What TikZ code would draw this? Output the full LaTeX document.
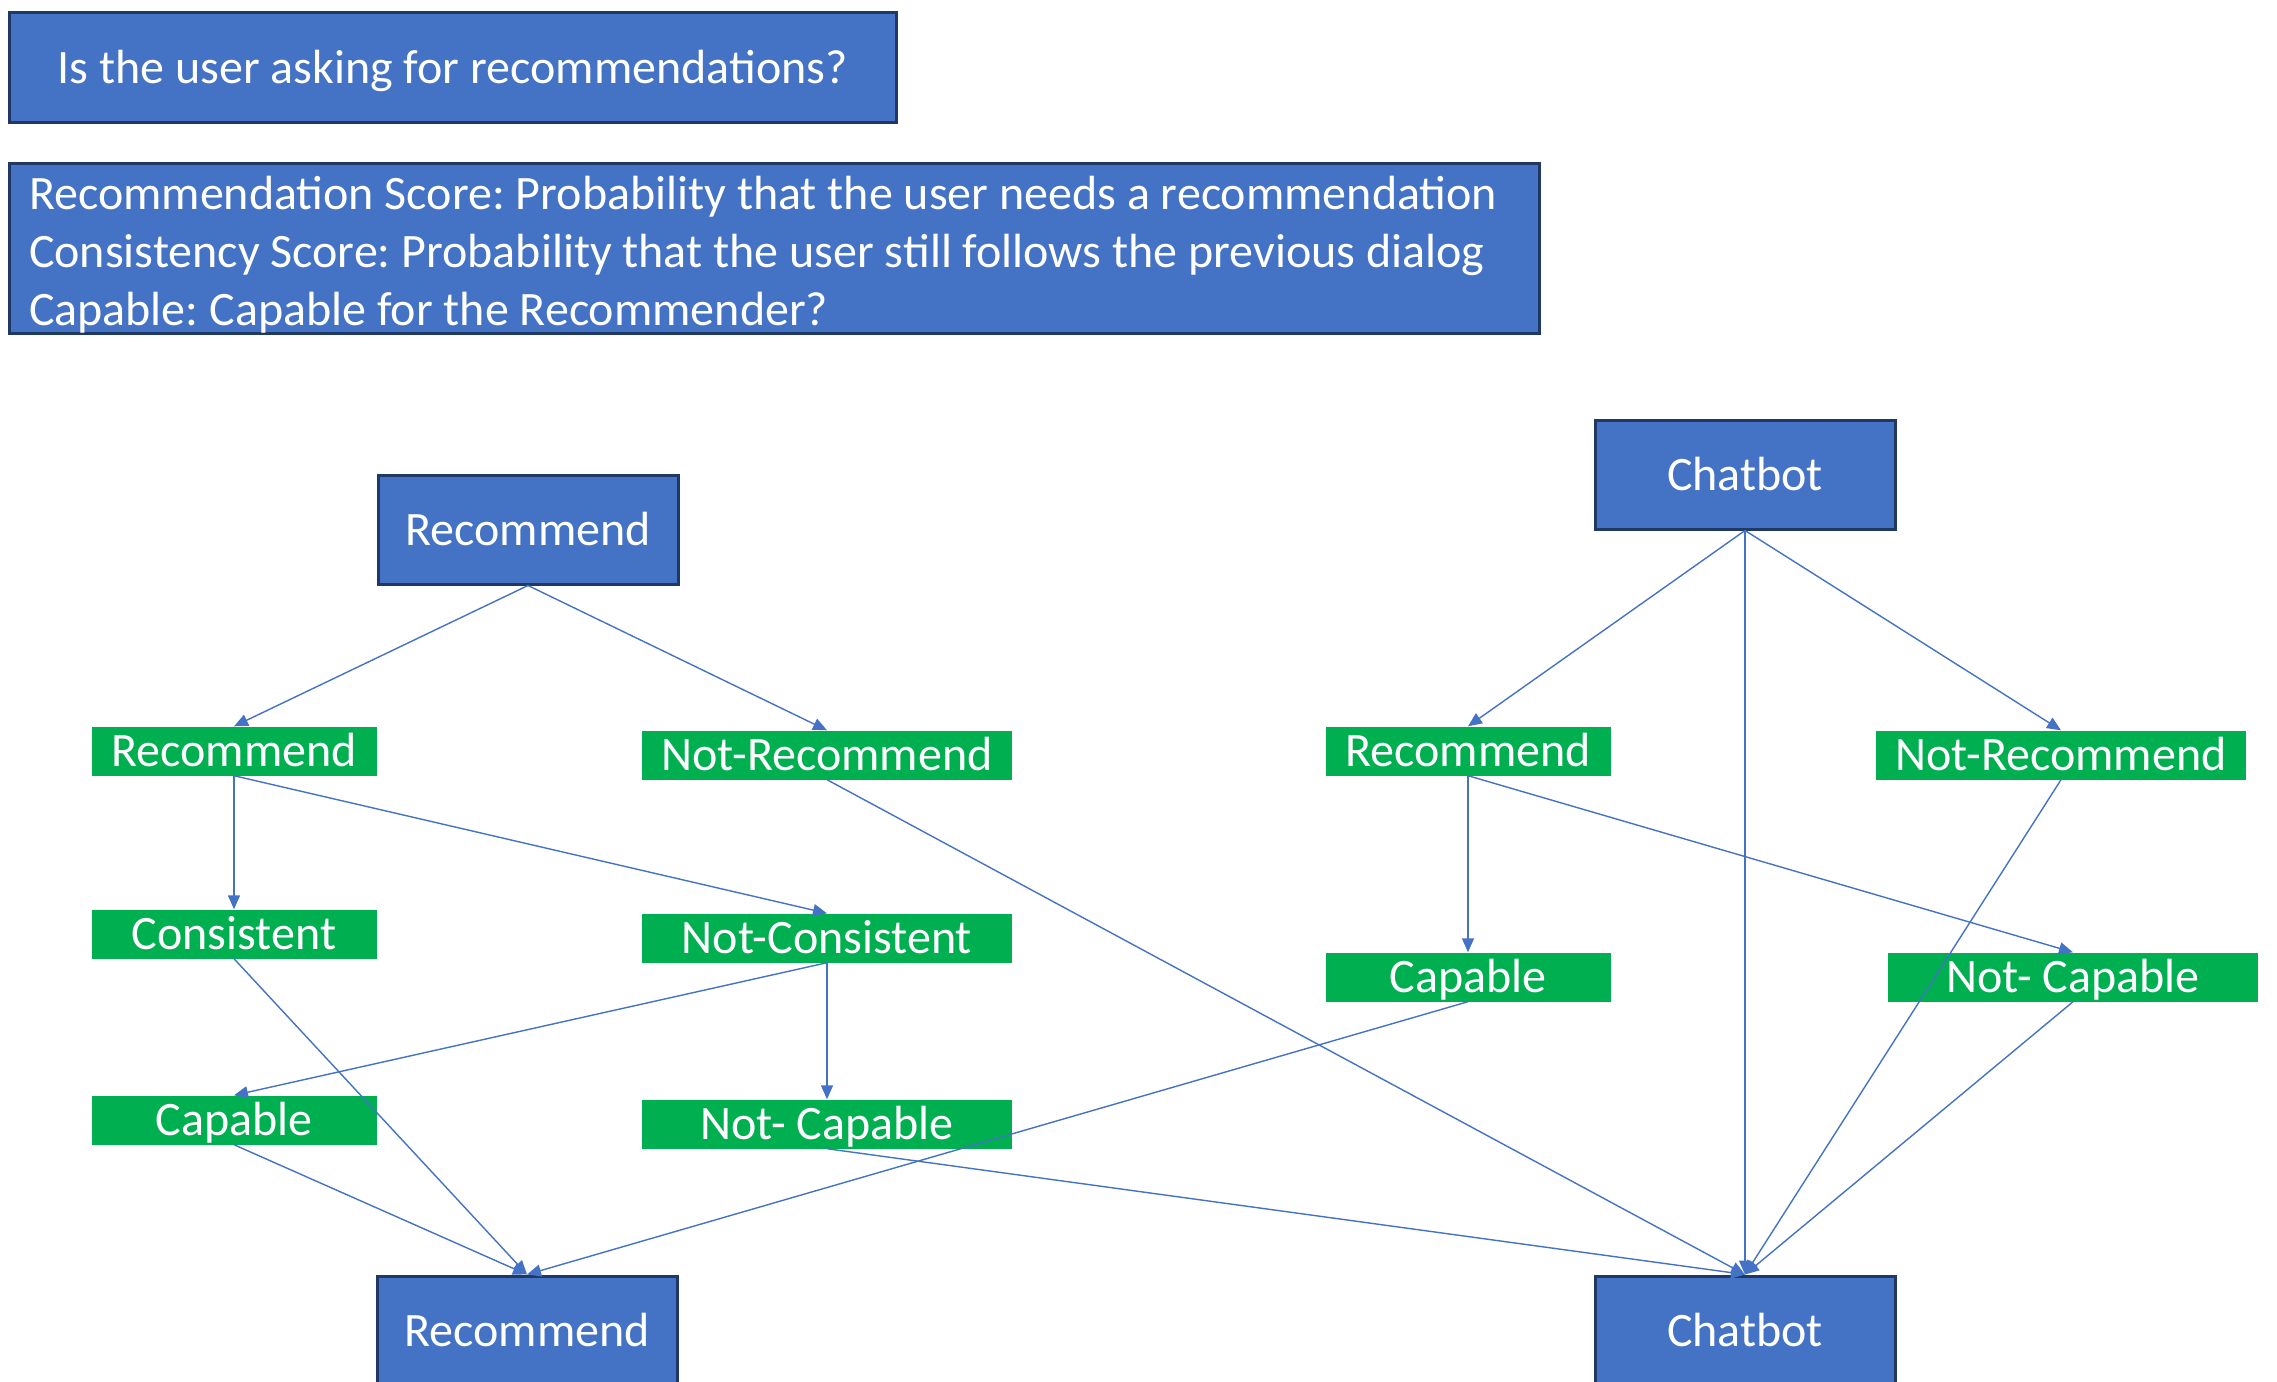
\documentclass[tikz,border=0pt]{standalone}
\usepackage{fontspec}
\setmainfont{Carlito}
\usetikzlibrary{arrows.meta}
\definecolor{boxblue}{HTML}{4472C4}
\definecolor{boxedge}{HTML}{1F3864}
\definecolor{leafgreen}{HTML}{00B050}
\frenchspacing

\begin{document}
\begin{tikzpicture}[x=1pt,y=-1pt]
    % ===== PARAMETERS =====
    \pgfmathsetmacro{\W}{2277}   % picture width
    \pgfmathsetmacro{\H}{1381}   % picture height
    \pgfmathsetmacro{\BW}{300}   % blue box width
    \pgfmathsetmacro{\BH}{109}   % blue box height
    \pgfmathsetmacro{\GS}{285}   % short green box width
    \pgfmathsetmacro{\GL}{370}   % long green box width
    \pgfmathsetmacro{\GH}{49}    % green box height

    % Column centres
    \pgfmathsetmacro{\Ca}{234}
    \pgfmathsetmacro{\Cb}{827}
    \pgfmathsetmacro{\Cc}{1468}
    \pgfmathsetmacro{\Cd}{2061}

    \useasboundingbox (0,0) rectangle (\W,\H);

    % ===== STYLES =====
    \tikzset{
        bigfont/.style={font=\fontsize{48}{58}\selectfont},
        bluebox/.style={
            bigfont, draw=boxedge, fill=boxblue, line width=3pt,
            text=white, inner sep=0pt,
            text height=37pt, text depth=6pt
        },
        greenbox/.style={
            bigfont, fill=leafgreen, text=white, inner sep=0pt,
            minimum height=\GH pt, text height=37pt, text depth=6pt
        },
        link/.style={
            draw=boxblue, line width=1.4pt,
            -{Triangle[length=14pt,width=12pt]}
        }
    }

    % ===== HEADER BOXES =====
    \node[bluebox, minimum width=887pt, minimum height=\BH pt] (question) at (452.5,67.5)
        {Is the user asking for recommendations?};
    \node[bluebox, minimum width=1530pt, minimum height=169pt,
          text height=, text depth=, align=flush left, text width=1490pt] (legend) at (774,248.5)
        {\rule{0pt}{46pt}Recommendation Score: Probability that the user needs a recommendation\\
         Consistency Score: Probability that the user still follows the previous dialog\\
         Capable: Capable for the Recommender?};

    % ===== TOP DECISIONS =====
    \node[bluebox, minimum width=\BW pt, minimum height=\BH pt] (recTop)  at (528,529.5) {Recommend};
    \node[bluebox, minimum width=\BW pt, minimum height=\BH pt] (chatTop) at (1745,474.5) {Chatbot};

    % ===== LEFT TREE =====
    \node[greenbox, minimum width=\GS pt] (recL)     at (\Ca,751)  {Recommend};
    \node[greenbox, minimum width=\GL pt] (notRecL)  at (\Cb,755)  {Not-Recommend};
    \node[greenbox, minimum width=\GS pt] (consL)    at (\Ca,934)  {Consistent};
    \node[greenbox, minimum width=\GL pt] (notConsL) at (\Cb,938)  {Not-Consistent};
    \node[greenbox, minimum width=\GS pt] (capL)     at (\Ca,1120) {Capable};
    \node[greenbox, minimum width=\GL pt] (notCapL)  at (\Cb,1124) {Not- Capable};

    % ===== RIGHT TREE =====
    \node[greenbox, minimum width=\GS pt] (recR)    at (\Cc,751) {Recommend};
    \node[greenbox, minimum width=\GL pt] (notRecR) at (\Cd,755) {Not-Recommend};
    \node[greenbox, minimum width=\GS pt] (capR)    at (\Cc,977) {Capable};
    \node[greenbox, minimum width=\GL pt] (notCapR) at (2073,977) {Not- Capable};

    % ===== OUTCOMES =====
    \node[bluebox, minimum width=\BW pt, minimum height=\BH pt] (recBot)  at (527,1330.5)  {Recommend};
    \node[bluebox, minimum width=\BW pt, minimum height=\BH pt] (chatBot) at (1745,1330.5) {Chatbot};

    % ===== CONNECTORS =====
    % Left tree
    \draw[link] (recTop.south) -- (recL.north);
    \draw[link] (recTop.south) -- (notRecL.north);
    \draw[link] (recL.south) -- (consL.north);
    \draw[link] (recL.south) -- (notConsL.north);
    \draw[link] (notConsL.south) -- (capL.north);
    \draw[link] (notConsL.south) -- (notCapL.north);
    \draw[link] (consL.south) -- (recBot.north);
    \draw[link] (capL.south) -- (recBot.north);
    \draw[link] (notCapL.south) -- (chatBot.north);
    \draw[link] (notRecL.south) -- (chatBot.north);

    % Right tree
    \draw[link] (chatTop.south) -- (recR.north);
    \draw[link] (chatTop.south) -- (notRecR.north);
    \draw[link] (chatTop.south) -- (chatBot.north);
    \draw[link] (recR.south) -- (capR.north);
    \draw[link] (recR.south) -- (notCapR.north);
    \draw[link] (capR.south) -- (recBot.north);
    \draw[link] (notRecR.south) -- (chatBot.north);
    \draw[link] (notCapR.south) -- (chatBot.north);
\end{tikzpicture}
\end{document}
